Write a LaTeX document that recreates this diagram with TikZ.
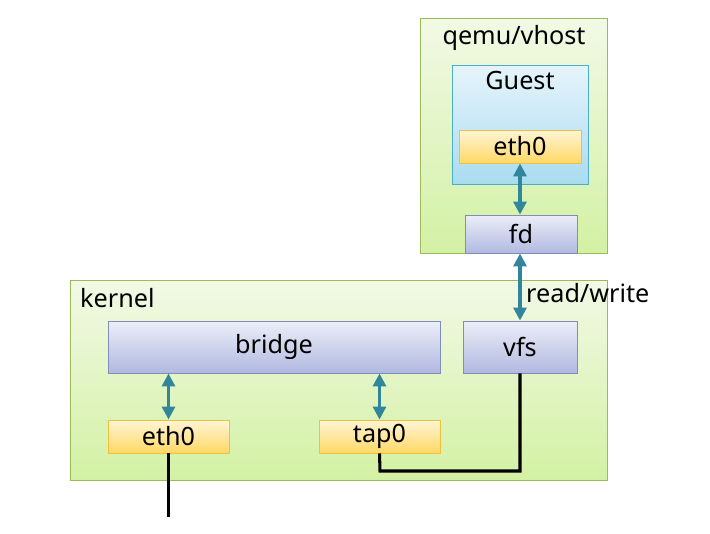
\documentclass[tikz,border=0pt]{standalone}
\usepackage{fontspec}
\setmainfont{Noto Sans}
\usetikzlibrary{arrows.meta, positioning, shadows}

\definecolor{boxgreenTop}{HTML}{F2F9E6}
\definecolor{boxgreenBot}{HTML}{D3F1A4}
\definecolor{boxgreenLine}{HTML}{9BBB59}
\definecolor{guestTop}{HTML}{E6F4FB}
\definecolor{guestBot}{HTML}{A9DCF1}
\definecolor{guestLine}{HTML}{4BACC6}
\definecolor{ifTop}{HTML}{FFF5D6}
\definecolor{ifBot}{HTML}{FFD865}
\definecolor{ifLine}{HTML}{F2C13C}
\definecolor{modTop}{HTML}{ECEEF8}
\definecolor{modBot}{HTML}{B1B9E0}
\definecolor{modLine}{HTML}{7F8DB8}
\definecolor{link}{HTML}{31869B}

\tikzset{
  areabox/.style={draw=boxgreenLine, line width=0.8pt, top color=boxgreenTop,
    bottom color=boxgreenBot, drop shadow={opacity=0.15, shadow xshift=1pt, shadow yshift=-1pt}},
  guestbox/.style={draw=guestLine, line width=0.8pt, top color=guestTop,
    bottom color=guestBot, drop shadow={opacity=0.15, shadow xshift=1pt, shadow yshift=-1pt}},
  ifbox/.style={draw=ifLine, line width=0.8pt, top color=ifTop, bottom color=ifBot,
    font=\fontsize{21.5}{25}\selectfont, inner sep=0pt,
    drop shadow={opacity=0.15, shadow xshift=1pt, shadow yshift=-1pt}},
  modbox/.style={draw=modLine, line width=0.8pt, top color=modTop, bottom color=modBot,
    font=\fontsize{21.5}{25}\selectfont, inner sep=0pt,
    drop shadow={opacity=0.15, shadow xshift=1pt, shadow yshift=-1pt}},
  label/.style={font=\fontsize{21.5}{25}\selectfont, inner sep=0pt},
  dataflow/.style={draw=link, line width=2.6pt,
    {Triangle[length=11pt, width=11pt]}-{Triangle[length=11pt, width=11pt]}},
  wire/.style={draw=black, line width=2.6pt}
}

\begin{document}
\begin{tikzpicture}[x=0.03cm, y=-0.03cm]
  \useasboundingbox (0,0) rectangle (710,533);
  % user space
  \node[areabox, minimum width=187*0.03cm, minimum height=235*0.03cm] (qemu) at (513.5,135.5) {};
  \node[label] (qemutxt) at (514,38) {qemu/vhost};
  \node[guestbox, minimum width=136*0.03cm, minimum height=119*0.03cm] (guest) at (520,124.5) {};
  \node[label] (guesttxt) at (520,81) {Guest};
  \node[ifbox, minimum width=122*0.03cm, minimum height=33*0.03cm] (geth) at (520,146.5) {eth0};
  \node[modbox, minimum width=112*0.03cm, minimum height=38*0.03cm] (fd) at (521,234) {fd};
  % kernel
  \node[areabox, minimum width=537*0.03cm, minimum height=200*0.03cm] (kernel) at (338.5,380) {};
  \node[label, anchor=west] (kerneltxt) at (80,298) {kernel};
  \node[modbox, minimum width=332*0.03cm, minimum height=52*0.03cm] (bridge) at (274,347) {bridge};
  \node[modbox, minimum width=114*0.03cm, minimum height=52*0.03cm] (vfs) at (520,347) {vfs};
  \node[ifbox, minimum width=121*0.03cm, minimum height=33*0.03cm] (keth) at (168.5,436.5) {eth0};
  \node[ifbox, minimum width=121*0.03cm, minimum height=33*0.03cm] (tap) at (379.5,436.5) {tap0};
  % links
  \draw[dataflow] (geth.south) -- (geth.south |- fd.north);
  \draw[dataflow] (fd.south -| vfs.north) -- (vfs.north);
  \node[label, anchor=west] (rw) at (526,293) {read/write};
  \draw[dataflow] (bridge.south -| keth.north) -- (keth.north);
  \draw[dataflow] (bridge.south -| tap.north) -- (tap.north);
  \coordinate (bend) at (380,471);
  \coordinate (uplink) at (169,517);
  \draw[wire] (tap.south) -- (bend) -| (vfs.south);
  \draw[wire] (keth.south) -- (keth.south |- uplink);
\end{tikzpicture}
\end{document}
